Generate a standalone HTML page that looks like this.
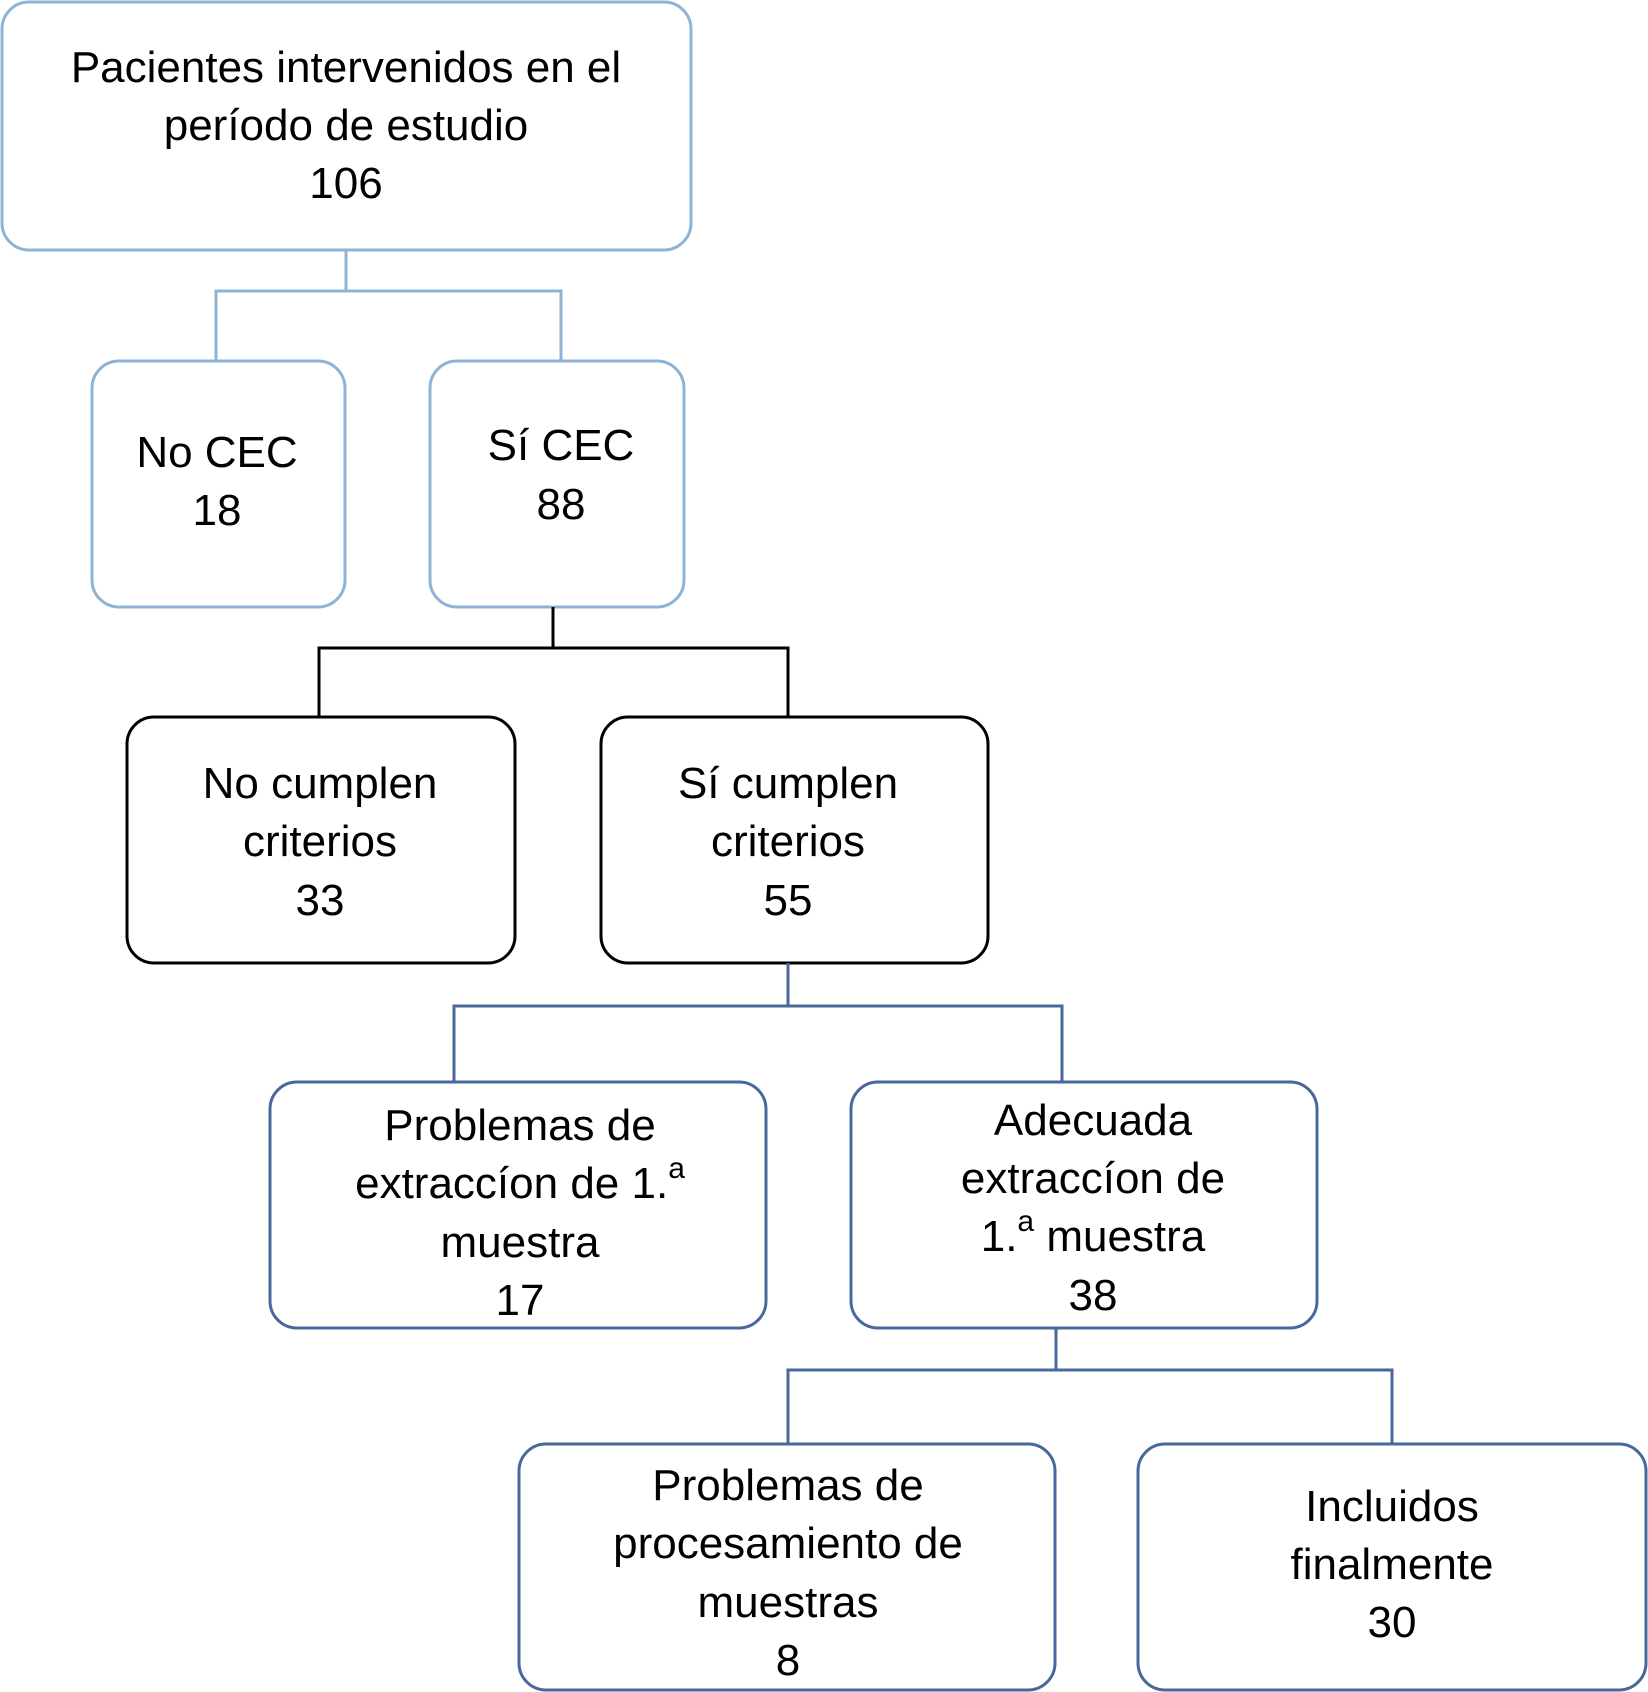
<!DOCTYPE html>
<html><head><meta charset="utf-8"><style>
html,body{margin:0;padding:0;background:#fff;}
svg{display:block;}
text{font-family:"Liberation Sans",Arial,sans-serif;font-size:44px;fill:#000;text-anchor:middle;}
</style></head><body>
<svg width="1648" height="1692" viewBox="0 0 1648 1692" xmlns="http://www.w3.org/2000/svg">
<g fill="none" stroke-width="3">
<!-- light blue -->
<g stroke="#8db4d6">
<rect x="2" y="2" width="689" height="248" rx="27"/>
<rect x="92" y="361" width="253" height="246" rx="27"/>
<rect x="430" y="361" width="254" height="246" rx="27"/>
<polyline points="346,250 346,291 216,291 216,361"/>
<polyline points="346,291 561,291 561,361"/>
</g>
<!-- black -->
<g stroke="#000">
<rect x="127" y="717" width="388" height="246" rx="27"/>
<rect x="601" y="717" width="387" height="246" rx="27"/>
<polyline points="553,607 553,648 319,648 319,717"/>
<polyline points="553,648 788,648 788,717"/>
</g>
<!-- dark blue -->
<g stroke="#4a679c">
<rect x="270" y="1082" width="496" height="246" rx="27"/>
<rect x="851" y="1082" width="466" height="246" rx="27"/>
<rect x="519" y="1444" width="536" height="246" rx="27"/>
<rect x="1138" y="1444" width="508" height="246" rx="27"/>
<polyline points="788,963 788,1006 454,1006 454,1082"/>
<polyline points="788,1006 1062,1006 1062,1082"/>
<polyline points="1056,1328 1056,1370 788,1370 788,1444"/>
<polyline points="1056,1370 1392,1370 1392,1444"/>
</g>
</g>
<text x="346" y="82">Pacientes intervenidos en el</text>
<text x="346" y="140">período de estudio</text>
<text x="346" y="198">106</text>

<text x="217" y="467">No CEC</text>
<text x="217" y="525">18</text>

<text x="561" y="460">Sí CEC</text>
<text x="561" y="519">88</text>

<text x="320" y="798">No cumplen</text>
<text x="320" y="856">criterios</text>
<text x="320" y="915">33</text>

<text x="788" y="798">Sí cumplen</text>
<text x="788" y="856">criterios</text>
<text x="788" y="915">55</text>

<text x="520" y="1140">Problemas de</text>
<text x="520" y="1198">extraccíon de 1.<tspan font-size="30" dy="-20">a</tspan></text>
<text x="520" y="1257">muestra</text>
<text x="520" y="1315">17</text>

<text x="1093" y="1135">Adecuada</text>
<text x="1093" y="1193">extraccíon de</text>
<text x="1093" y="1251">1.<tspan font-size="30" dy="-20">a</tspan><tspan dy="20"> muestra</tspan></text>
<text x="1093" y="1310">38</text>

<text x="788" y="1500">Problemas de</text>
<text x="788" y="1558">procesamiento de</text>
<text x="788" y="1617">muestras</text>
<text x="788" y="1675">8</text>

<text x="1392" y="1521">Incluidos</text>
<text x="1392" y="1579">finalmente</text>
<text x="1392" y="1637">30</text>
</svg>
</body></html>
